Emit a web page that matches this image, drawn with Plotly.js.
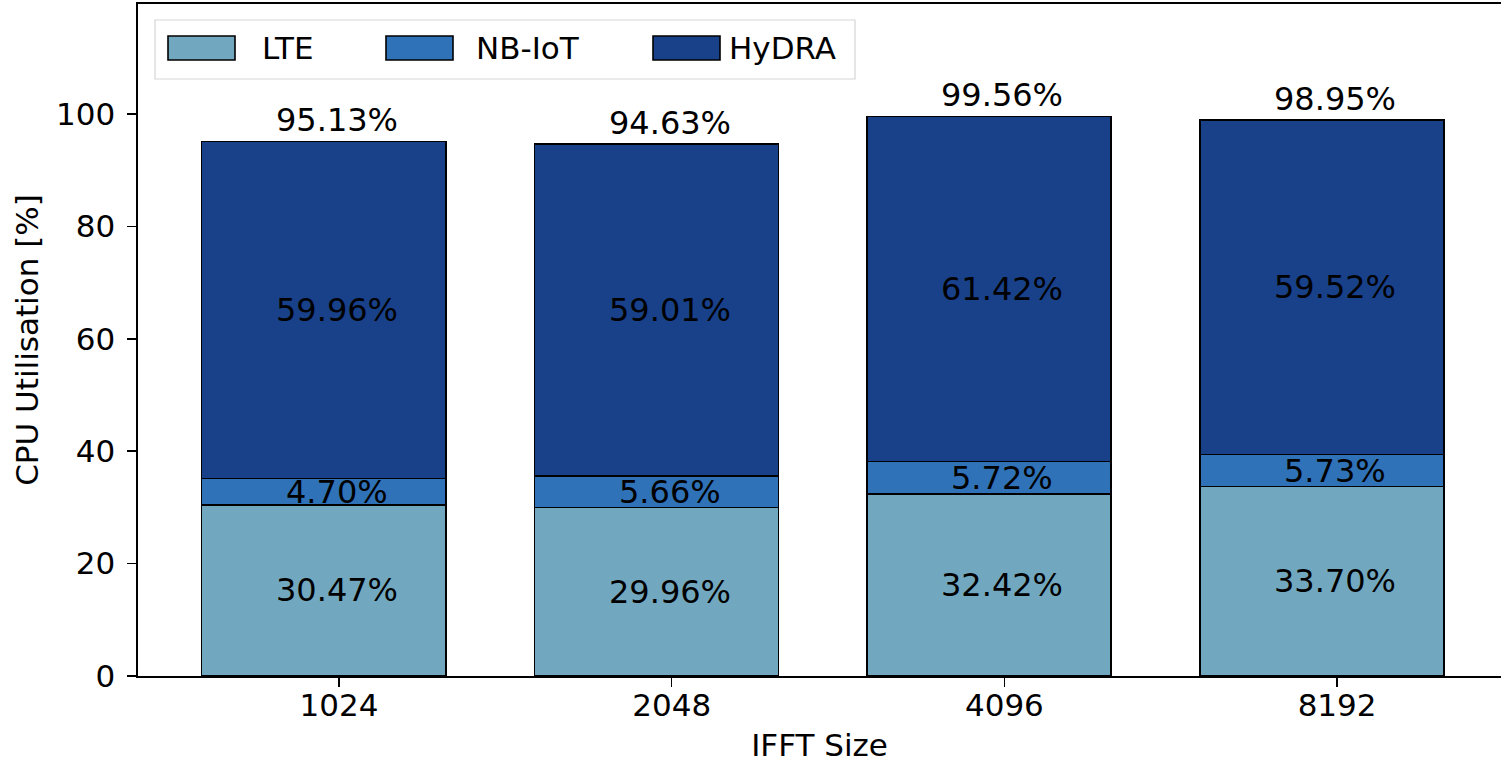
<!DOCTYPE html>
<html>
<head>
<meta charset="utf-8">
<script src="https://cdn.plot.ly/plotly-3.0.1.min.js"></script>
<style>html,body{margin:0;padding:0;background:#fff;}#chart{width:1501px;height:763px;}</style>
</head>
<body>
<div id="chart"></div>
<script>
// ---- data ----
const categories = ["1024", "2048", "4096", "8192"];
const seriesNames = ["LTE", "NB-IoT", "HyDRA"];
const lte   = [30.47, 29.96, 32.42, 33.70];
const nbiot = [4.70, 5.66, 5.72, 5.73];
const hydra = [59.96, 59.01, 61.42, 59.52];
const yTicks = [0, 20, 40, 60, 80, 100];

// ---- styling ----
const colors = ["#72a8bf", "#2f72b8", "#18418a"];
const FONT = "DejaVu Sans, sans-serif";
const FS = 31;
const LFS = 32;
const W = 1501, H = 763;
const M = {l: 138, r: 0, t: 4, b: 87};
const pw = W - M.l - M.r, ph = H - M.t - M.b;
const px = v => (v - M.l) / pw;
const py = v => (H - M.b - v) / ph;
const BAR_W = 0.734, BAR_OFF = -0.4127;

const seriesVals = [lte, nbiot, hydra];
const traces = seriesVals.map((vals, i) => ({
  type: "bar",
  name: seriesNames[i],
  x: categories,
  y: vals,
  width: BAR_W,
  offset: BAR_OFF,
  marker: {color: colors[i], line: {color: "#000", width: 1.6}},
  showlegend: false,
  hoverinfo: "skip"
}));

const annotations = [];
const totals = categories.map(() => 0);
seriesVals.forEach(vals => {
  vals.forEach((v, j) => {
    annotations.push({
      x: j, y: totals[j] + v / 2, xref: "x", yref: "y",
      text: v.toFixed(2) + "%", showarrow: false,
      font: {family: FONT, size: LFS, color: "#000"},
      xanchor: "center", yanchor: "middle", xshift: -2
    });
    totals[j] += v;
  });
});
totals.forEach((t, j) => {
  annotations.push({
    x: j, y: t, xref: "x", yref: "y",
    text: t.toFixed(2) + "%", showarrow: false,
    font: {family: FONT, size: LFS, color: "#000"},
    xanchor: "center", yanchor: "middle", yshift: 21, xshift: -2
  });
});

// ---- custom legend ----
const shapes = [];
shapes.push({type: "rect", xref: "paper", yref: "paper",
  x0: px(155), x1: px(855), y0: py(79), y1: py(20),
  line: {color: "#d5d5d5", width: 1.2}, fillcolor: "rgba(255,255,255,0.85)"});
const patchX = [168, 386, 653];
const textX = [260, 474, 727];
seriesNames.forEach((n, i) => {
  shapes.push({type: "rect", xref: "paper", yref: "paper",
    x0: px(patchX[i]), x1: px(patchX[i] + 67), y0: py(60), y1: py(36),
    line: {color: "#000", width: 1.6}, fillcolor: colors[i]});
  annotations.push({xref: "paper", yref: "paper", x: px(textX[i]), y: py(48),
    xanchor: "left", yanchor: "middle", text: n, showarrow: false,
    font: {family: FONT, size: FS, color: "#000"}});
});

const layout = {
  width: W, height: H,
  margin: M,
  paper_bgcolor: "#fff", plot_bgcolor: "#fff",
  barmode: "stack",
  font: {family: FONT, size: FS, color: "#000"},
  xaxis: {
    type: "category",
    range: [-0.604, 3.4926],
    showline: true, linecolor: "#000", linewidth: 1.6, mirror: true,
    ticks: "outside", ticklen: 9, tickwidth: 1.6, tickcolor: "#000",
    ticklabelstandoff: -8,
    showgrid: false, zeroline: false,
    tickfont: {family: FONT, size: FS, color: "#000"},
    title: {text: "IFFT Size", font: {family: FONT, size: FS, color: "#000"}, standoff: 18}
  },
  yaxis: {
    range: [0, ph / 5.62],
    tickvals: yTicks,
    ticktext: yTicks.map(String),
    showline: true, linecolor: "#000", linewidth: 1.6,
    ticks: "outside", ticklen: 9, tickwidth: 1.6, tickcolor: "#000",
    ticklabelstandoff: 6,
    showgrid: false, zeroline: false,
    tickfont: {family: FONT, size: FS, color: "#000"},
    title: {text: "CPU Utilisation [%]", font: {family: FONT, size: FS, color: "#000"}, standoff: 8}
  },
  annotations: annotations,
  shapes: shapes,
  showlegend: false
};

Plotly.newPlot("chart", traces, layout, {displayModeBar: false, staticPlot: true});
</script>
</body>
</html>
